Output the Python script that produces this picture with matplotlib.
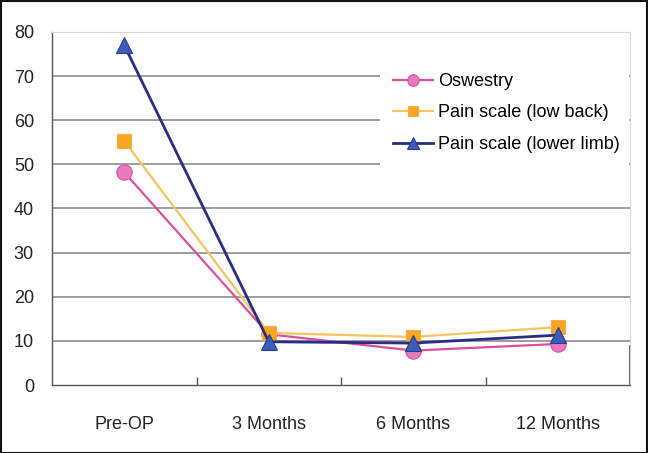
import matplotlib
matplotlib.use("Agg")
import matplotlib.pyplot as plt
from matplotlib.patches import Rectangle

categories = ["Pre-OP", "3 Months", "6 Months", "12 Months"]
oswestry = [48.2, 11.5, 7.8, 9.3]
low_back = [55.3, 11.8, 10.9, 13.1]
lower_limb = [77.0, 9.8, 9.5, 11.3]
yticks = [0, 10, 20, 30, 40, 50, 60, 70, 80]

plt.rcParams['font.family'] = ['Liberation Sans', 'DejaVu Sans']

fig = plt.figure(figsize=(6.48, 4.53), dpi=100)
ax = fig.add_axes([52/648, 1-385/453, (630-52)/648, (385-32)/453])

x = list(range(len(categories)))

ax.plot(x, oswestry, color='#D9509C', lw=1.6, marker='o', ms=11,
        mfc='#E57DBD', mec='#D9509C', mew=0.8, label='Oswestry', zorder=3)
ax.plot(x, low_back, color='#F6C461', lw=1.6, marker='s', ms=10.5,
        mfc='#F7A522', mec='#F5B040', mew=0.8, label='Pain scale (low back)', zorder=4)
ax.plot(x, lower_limb, color='#2A2D84', lw=2.0, marker='^', ms=12,
        mfc='#3B5DB8', mec='#2A3D90', mew=0.8, label='Pain scale (lower limb)', zorder=5)

ax.set_xlim(-0.5, 3.5)
ax.set_ylim(0, 80)
ax.set_yticks(yticks)
ax.set_xticks(x)
ax.set_xticklabels(categories)
ax.set_xticks([0.5, 1.5, 2.5], minor=True)
ax.tick_params(axis='y', length=0, pad=13, labelsize=13, colors='#222222')
ax.tick_params(axis='x', which='major', length=0, pad=22, labelsize=13, colors='#222222')
ax.tick_params(axis='x', which='minor', length=6, width=1, direction='in', color='#555555')

for v in yticks[1:-1]:
    ax.axhline(v, color='#8C8C8C', lw=1.2, zorder=1)

# dark segment at right end of the x axis
ax.axvline(3.5, ymin=0, ymax=8.8/80, color='#444444', lw=1.2, zorder=2, clip_on=False)

ax.spines['left'].set_color('#555555')
ax.spines['bottom'].set_color('#555555')
ax.spines['left'].set_linewidth(1.0)
ax.spines['bottom'].set_linewidth(1.0)
ax.spines['top'].set_color('#D8D8D8')
ax.spines['right'].set_color('#D8D8D8')

# white legend area covering gridlines
ax.add_patch(Rectangle(((380-52)/578, (385-172)/353), (629-380)/578, (172-60)/353,
                       transform=ax.transAxes, facecolor='white', edgecolor='none', zorder=2))

leg = ax.legend(loc='upper left', bbox_to_anchor=((393-52)/578, (385-73)/353), frameon=False,
                fontsize=13, handlelength=2.2, labelspacing=0.8, borderpad=0,
                borderaxespad=0, handletextpad=0.3, markerscale=0.75)
leg.set_zorder(6)

fig.patches.append(Rectangle((0.001, 0.001), 0.997, 0.997, transform=fig.transFigure,
                             fill=False, edgecolor='#111111', lw=1.5))

fig.savefig("out.png", dpi=100)
